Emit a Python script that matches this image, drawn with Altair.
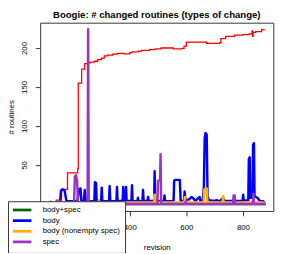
import altair as alt
import pandas as pd

TITLE = "Boogie: # changed routines (types of change)"
SERIES = ["body+spec", "body", "body (nonempty spec)", "spec"]
COLORS = ["#006400", "#0000FF", "#FFB000", "#9A32CD"]
X_TICKS = [400, 600, 800]
Y_TICKS = [50, 100, 150, 200]

# body+spec (never non-zero)
green_rev = [114, 877]
green_val = [0, 0]

# body
blue_rev = [114, 150, 154, 157, 163, 170, 176, 200, 215, 221, 226, 229, 238, 241, 244,
            262, 275, 277, 281, 283, 299, 301, 303, 318, 327, 329, 331, 345, 353, 355,
            357, 370, 375, 377, 379, 385, 387, 389, 406, 408, 410, 427, 429, 431, 445,
            447, 449, 463, 465, 467, 486, 488, 490, 500, 510, 521, 523, 525, 555, 557,
            562, 568, 577, 580, 592, 594, 597, 610, 618, 625, 632, 643, 647, 650, 658,
            662, 665, 668, 672, 675, 680, 700, 707, 712, 720, 730, 735, 760, 780, 799,
            801, 803, 819, 821, 824, 826, 834, 836, 839, 841, 851, 860, 872, 877]
blue_val = [0, 0, 3.5, 17, 19, 17, 4, 3.5, 3.5, 19, 20, 4, 4, 18, 4,
            3.5, 4, 28, 27, 4, 4, 21, 4, 3.5, 4, 23, 4, 3.5, 4, 22,
            3.5, 4, 4, 22, 4, 4, 22, 4, 4, 24, 4, 3.5, 8, 3.5, 4,
            18, 4, 4, 9, 4, 4, 42, 5, 4, 3.5, 4, 11, 3.5, 4, 30,
            31, 31, 31, 4, 4, 16, 5, 6, 9, 7, 4, 8, 9, 4, 5,
            22, 85, 91, 89, 10, 5, 4, 5, 4, 4, 8, 4, 4, 4, 4,
            12, 4, 5, 58, 60, 8, 8, 76, 78, 10, 8, 4, 3.5, 0]

# body (nonempty spec)
orange_rev = [114, 150, 160, 289, 291, 293, 486, 487, 489, 491, 593, 595, 597, 661, 663,
              667, 672, 675, 728, 730, 732, 800, 835, 837, 839, 872, 877]
orange_val = [0, 0, 2, 2, 4, 2, 2, 12, 12, 2, 2, 9, 2, 2, 18,
              20, 20, 2, 2, 10, 2, 2, 2, 5, 2, 2, 0]

# spec
purple_rev = [114, 119, 121, 123, 150, 155, 160, 203, 206, 210, 214, 217, 251, 253, 255,
              498, 500, 505, 507, 509, 511, 595, 598, 601, 765, 767, 771, 773, 835, 837, 839, 877]
purple_val = [0, 0, 3, 0, 0, 4, 0, 0, 35, 37, 30, 0, 0, 224, 0,
              0, 30, 30, 30, 64, 0, 0, 3, 0, 0, 11, 11, 0, 0, 13, 0, 0]

# total routines (red line)
red_rev = [114, 140, 159, 180, 216, 218, 230, 241, 250, 260, 275, 287, 300, 310, 322,
           340, 356, 380, 400, 408, 430, 442, 470, 490, 511, 540, 554, 585, 592, 600,
           609, 672, 690, 718, 722, 739, 770, 800, 822, 832, 834, 836, 845, 862, 866, 877]
red_val = [1, 5, 18.75, 40, 45, 155, 173, 180, 181, 182, 183, 185, 187, 190, 191,
           192, 193, 192.5, 194, 195, 196, 197, 198, 199, 200, 200, 199, 199.5, 202.5, 207.5,
           207.5, 206, 206, 207, 212, 215, 216.6, 217, 218, 222, 215, 220, 221, 221, 223.5, 223.5]

FONT = "Liberation Sans"
xs = alt.Scale(domain=[83.5, 907.5], nice=False, zero=False)
ys = alt.Scale(domain=[-8.9, 232.4], nice=False, zero=False)
cs = alt.Scale(domain=SERIES, range=COLORS)

x_axis = alt.Axis(values=X_TICKS, title="revision", labelPadding=13.7,
                  labelBaseline="alphabetic", titleX=119.5, titleY=39.5,
                  titleBaseline="alphabetic", labelFlush=False)
y_axis = alt.Axis(values=Y_TICKS, title="# routines", labelAngle=270, labelAlign="center",
                  labelBaseline="middle", labelPadding=11, titleAngle=270,
                  titleX=-29, titleY=96.5, titleAlign="center", titleBaseline="middle")
legend = alt.Legend(title=None, orient="none", legendX=-33, legendY=183,
                    symbolType="M-4.75,0H4.75", symbolSize=16, symbolStrokeWidth=2.8,
                    symbolOffset=5.5, labelFontSize=8, labelFont=FONT, labelColor="black",
                    labelOffset=17, padding=5, rowPadding=-1.1, fillColor="white",
                    strokeColor="#333")

red_df = pd.DataFrame({"rev": red_rev, "val": red_val})
red = alt.Chart(red_df).mark_line(color="#FF0000", strokeWidth=1.3, clip=True,
                                  interpolate="step-after").encode(
    x=alt.X("rev:Q", scale=xs, axis=x_axis),
    y=alt.Y("val:Q", scale=ys, axis=y_axis),
)

layers = [red]
for name, revs, vals in [(SERIES[0], green_rev, green_val), (SERIES[1], blue_rev, blue_val),
                         (SERIES[2], orange_rev, orange_val), (SERIES[3], purple_rev, purple_val)]:
    df = pd.DataFrame({"rev": revs, "val": vals, "series": name})
    layers.append(
        alt.Chart(df).mark_line(strokeWidth=2.5, clip=True, strokeCap="round",
                                strokeJoin="round").encode(
            x=alt.X("rev:Q", scale=xs, axis=x_axis),
            y=alt.Y("val:Q", scale=ys, axis=y_axis),
            color=alt.Color("series:N", scale=cs, legend=legend),
        )
    )

chart = alt.layer(*layers).properties(
    width=239, height=193,
    padding={"left": 33, "top": 12, "right": 13, "bottom": 40},
    autosize=alt.AutoSizeParams(type="none"),
    title=alt.TitleParams(text=TITLE, fontSize=9.8, font=FONT, fontWeight="bold",
                          anchor="middle", offset=3, color="black"),
).configure_view(stroke="#333", strokeWidth=1).configure_axis(
    grid=False, domain=False, tickColor="#333", tickSize=5, labelColor="black",
    labelFont=FONT, labelFontSize=8, titleFont=FONT, titleFontSize=8,
    titleFontWeight="normal", titleColor="black",
)

chart.save("out.html", embed_options={"renderer": "svg", "actions": False})
